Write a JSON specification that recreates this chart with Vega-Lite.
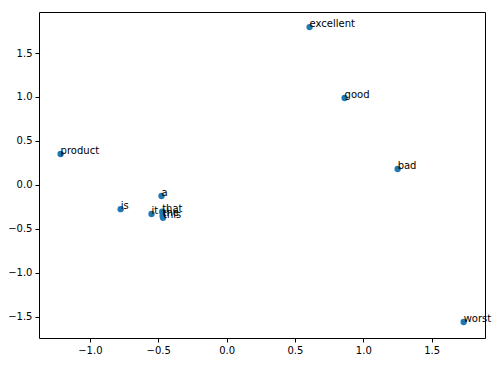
{
  "$schema": "https://vega.github.io/schema/vega-lite/v6.json",
  "autosize": "none",
  "width": 446,
  "height": 326,
  "padding": {"left": 39, "top": 12, "right": 18, "bottom": 28},
  "background": "white",
  "config": {
    "font": "DejaVu Sans",
    "view": {"stroke": "black", "strokeWidth": 1},
    "axis": {
      "grid": false, "domain": false, "tickColor": "black", "tickSize": 4,
      "labelColor": "black", "labelFont": "DejaVu Sans", "labelFontSize": 10,
      "labelPadding": 3, "title": null, "labelFlush": false, "labelOverlap": false
    }
  },
  "data": {"values": [
    {"word": "excellent", "x": 0.607, "y": 1.795},
    {"word": "good", "x": 0.863, "y": 0.989},
    {"word": "product", "x": -1.214, "y": 0.352},
    {"word": "bad", "x": 1.251, "y": 0.182},
    {"word": "a", "x": -0.476, "y": -0.125},
    {"word": "is", "x": -0.775, "y": -0.275},
    {"word": "it", "x": -0.549, "y": -0.330},
    {"word": "that", "x": -0.471, "y": -0.303},
    {"word": "the", "x": -0.468, "y": -0.350},
    {"word": "this", "x": -0.465, "y": -0.372},
    {"word": "worst", "x": 1.734, "y": -1.557}
  ]},
  "encoding": {
    "x": {"field": "x", "type": "quantitative",
          "scale": {"domain": [-1.372, 1.890], "nice": false, "zero": false},
          "axis": {"values": [-1, -0.5, 0, 0.5, 1, 1.5], "format": ".1f"}},
    "y": {"field": "y", "type": "quantitative",
          "scale": {"domain": [-1.739, 1.966], "nice": false, "zero": false},
          "axis": {"values": [-1.5, -1, -0.5, 0, 0.5, 1, 1.5], "format": ".1f"}}
  },
  "layer": [
    {"mark": {"type": "point", "filled": true, "size": 40, "color": "#1f77b4", "opacity": 1}},
    {"mark": {"type": "text", "align": "left", "baseline": "alphabetic", "fontSize": 10, "font": "DejaVu Sans", "color": "black"},
     "encoding": {"text": {"field": "word"}}}
  ]
}
